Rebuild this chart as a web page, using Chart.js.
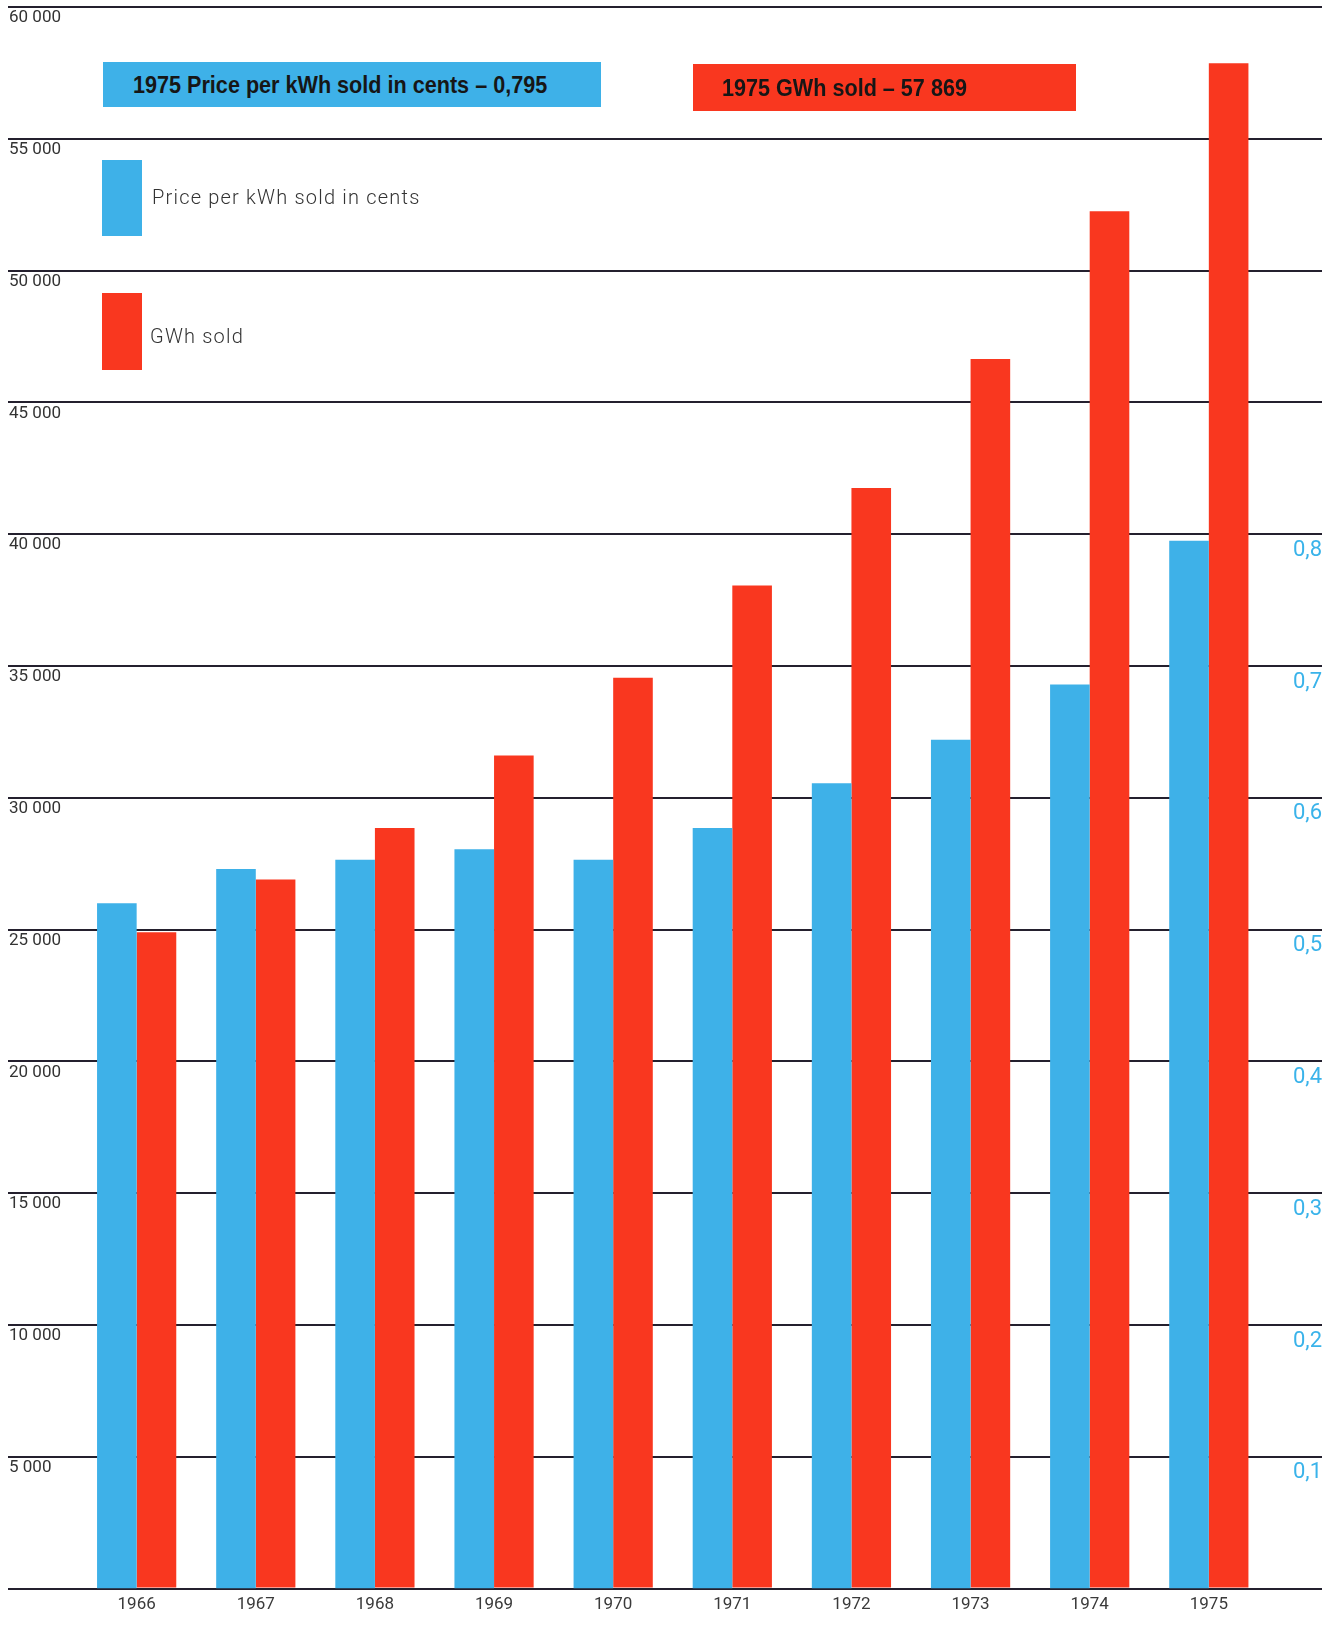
<!DOCTYPE html>
<html>
<head>
<meta charset="utf-8">
<title>GWh sold and price per kWh, 1966–1975</title>
<script src="https://cdn.jsdelivr.net/npm/chart.js@4.4.1/dist/chart.umd.min.js"></script>
<style>
  body { margin: 0; background: #fff; }
  #wrap { position: relative; width: 1337px; height: 1625px; }
  #chart { position: absolute; left: 0; top: 0; }
  .banner {
    position: absolute;
    display: flex;
    align-items: center;
    font: bold 24px "Liberation Sans", Arial, sans-serif;
    color: #161616;
    white-space: nowrap;
  }
  .banner span { display: inline-block; transform: scaleX(0.9); transform-origin: left center; }
  .swatch { position: absolute; width: 40px; }
  .key {
    position: absolute;
    font: 300 20px Roboto, "Liberation Sans", sans-serif;
    letter-spacing: 1.2px;
    color: #333;
    white-space: nowrap;
    line-height: 1;
  }
</style>
</head>
<body>
<div id="wrap">
  <canvas id="chart" width="1337" height="1625"></canvas>

  <div class="banner" id="priceBanner" style="left:103px;top:62px;width:498px;height:45px;"><span id="priceNote" style="margin-left:30px"></span></div>
  <div class="banner" id="gwhBanner" style="left:693px;top:64px;width:383px;height:47px;"><span id="gwhNote" style="margin-left:29px"></span></div>

  <div class="swatch" id="priceSwatch" style="left:102px;top:160px;height:76px;"></div>
  <div class="key" style="left:152px;top:187px;">Price per kWh sold in cents</div>
  <div class="swatch" id="gwhSwatch" style="left:102px;top:293px;height:77px;"></div>
  <div class="key" style="left:150px;top:326px;">GWh sold</div>
</div>

<script>
// yearly figures
const years = [1966, 1967, 1968, 1969, 1970, 1971, 1972, 1973, 1974, 1975];
const gwhSold = [24900, 26900, 28850, 31600, 34550, 38050, 41750, 46650, 52250, 57869];
const priceCents = [0.520, 0.546, 0.553, 0.561, 0.553, 0.577, 0.611, 0.644, 0.686, 0.795];

// axis ticks
const gwhTicks = [0, 5000, 10000, 15000, 20000, 25000, 30000, 35000, 40000, 45000, 50000, 55000, 60000];
const priceTicks = [0.1, 0.2, 0.3, 0.4, 0.5, 0.6, 0.7, 0.8];

const BLUE = '#3eb1e8';
const RED = '#f9371f';
const BLUE_TEXT = '#3ab3ea';
const GRID = '#24202e';
const FONT = 'Roboto, "Liberation Sans", sans-serif';

function spaced(n) {
    return String(n).replace(/\B(?=(\d{3})+(?!\d))/g, ' ');
}
function decimalComma(n, digits) {
    return n.toFixed(digits).replace('.', ',');
}

// y axes take no room: labels sit inside the plot, under their lines
function flatAxis(scale) {
    scale.width = 0;
    scale.paddingTop = 0;
    scale.paddingBottom = 0;
}

// headline boxes and legend swatches
const last = years.length - 1;
document.getElementById('priceBanner').style.background = BLUE;
document.getElementById('gwhBanner').style.background = RED;
document.getElementById('priceSwatch').style.background = BLUE;
document.getElementById('gwhSwatch').style.background = RED;
document.getElementById('priceNote').textContent =
    years[last] + ' Price per kWh sold in cents – ' + decimalComma(priceCents[last], 3);
document.getElementById('gwhNote').textContent =
    years[last] + ' GWh sold – ' + spaced(gwhSold[last]);

const ctx = document.getElementById('chart').getContext('2d');

new Chart(ctx, {
    type: 'bar',
    data: {
        datasets: [{
            label: 'Price per kWh sold in cents',
            data: years.map((yr, i) => ({ x: yr, y: priceCents[i] })),
            backgroundColor: BLUE,
            yAxisID: 'price'
        }, {
            label: 'GWh sold',
            data: years.map((yr, i) => ({ x: yr, y: gwhSold[i] })),
            backgroundColor: RED,
            yAxisID: 'gwh'
        }]
    },
    options: {
        responsive: false,
        animation: false,
        layout: { padding: { left: 8, right: 15, top: 7, bottom: 4 } },
        datasets: {
            bar: { categoryPercentage: 0.665, barPercentage: 1, borderWidth: 0 }
        },
        plugins: {
            legend: { display: false },
            tooltip: { enabled: false }
        },
        scales: {
            x: {
                type: 'linear',
                offset: false,
                min: 1964.92,
                max: 1975.95,
                afterBuildTicks: scale => { scale.ticks = years.map(v => ({ value: v })); },
                grid: { display: false, drawTicks: false },
                border: { display: false },
                ticks: {
                    padding: 6,
                    color: '#3a3a3a',
                    font: { family: FONT, size: 17 },
                    callback: v => String(v)
                }
            },
            gwh: {
                type: 'linear',
                position: 'left',
                min: 0,
                max: 60000,
                z: 1,
                afterBuildTicks: scale => { scale.ticks = gwhTicks.map(v => ({ value: v })); },
                afterFit: flatAxis,
                grid: { color: GRID, lineWidth: 2, drawTicks: false },
                border: { display: false },
                ticks: {
                    mirror: true,
                    padding: 1,
                    labelOffset: 11,
                    color: '#333',
                    font: { family: FONT, size: 17 },
                    callback: v => (v === 0 ? '' : spaced(v))
                }
            },
            price: {
                type: 'linear',
                position: 'right',
                min: 0,
                max: 1.2,
                afterBuildTicks: scale => { scale.ticks = priceTicks.map(v => ({ value: v })); },
                afterFit: flatAxis,
                grid: { display: false, drawTicks: false },
                border: { display: false },
                ticks: {
                    mirror: true,
                    padding: 0,
                    labelOffset: 16,
                    color: BLUE_TEXT,
                    font: { family: FONT, size: 22 },
                    callback: v => decimalComma(v, 1)
                }
            }
        }
    }
});
</script>
</body>
</html>
